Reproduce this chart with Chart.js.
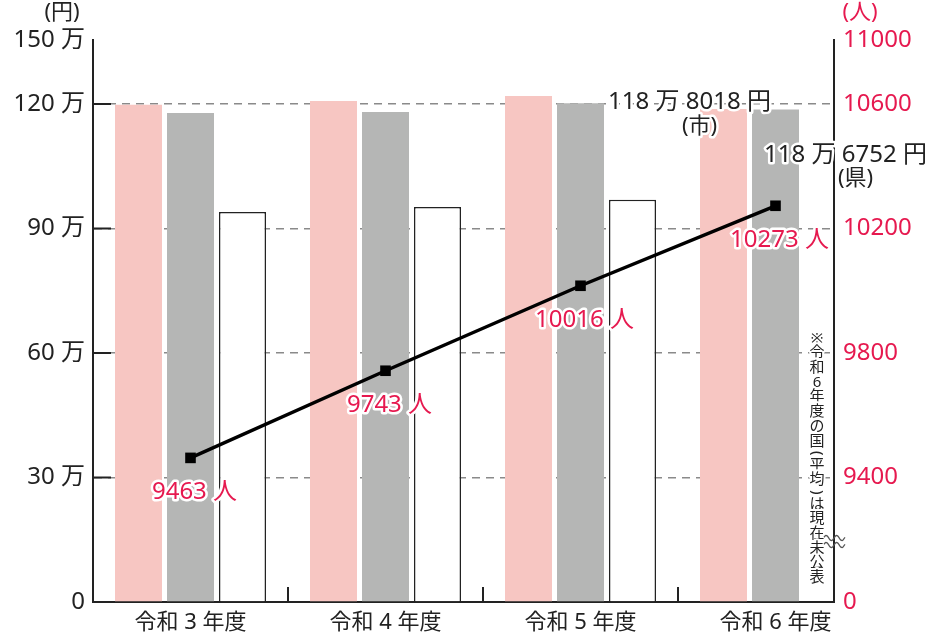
<!DOCTYPE html>
<html><head><meta charset="utf-8">
<script src="https://cdn.jsdelivr.net/npm/chart.js@4"></script>
<style>html,body{margin:0;padding:0;background:#fff;} #wrap{width:938px;height:640px;position:relative;}</style>
</head><body><div id="wrap"><canvas id="c"></canvas></div>
<script>
// ---- data ----
const categories = ['令和 3 年度', '令和 4 年度', '令和 5 年度', '令和 6 年度'];
const cityValues = [119.8, 120.7, 121.9, 118.8018];   // 万円（市）
const prefValues = [117.8, 118.1, 120.2, 118.6752];   // 万円（県）
const nationValues = [94.0, 95.2, 96.9, null];        // 万円（国・平均）
const peopleValues = [9463, 9743, 10016, 10273];      // 人
const yenTicks = [0, 30, 60, 90, 120];
const yenTopLabel = '150 万';
const peopleTicks = [9400, 9800, 10200, 10600];
const peopleBottomLabel = '0';
const peopleTopLabel = '11000';
const cityNote = ['118 万 8018 円', '(市)'];
const prefNote = ['118 万 6752 円', '(県)'];
const sideNote = '※令和6年度の国(平均)は現在未公表';

// ---- scale geometry ----
const Y_MAX = 135.42;
const P_MIN = 9000;
const P_MAX = P_MIN + Y_MAX * 400 / 30;

const PINK = '#e6194f';
const FONT = "'Noto Sans', 'Noto Sans CJK JP', sans-serif";

const pts = (arr) => arr.map((v, i) => ({x: i, y: v}));

function outlinedText(ctx, txt, x, y, color, size, align) {
  ctx.save();
  ctx.font = size + 'px ' + FONT;
  ctx.textAlign = align || 'center';
  ctx.textBaseline = 'middle';
  ctx.lineJoin = 'round';
  ctx.lineWidth = 5;
  ctx.strokeStyle = '#fff';
  ctx.strokeText(txt, x, y);
  ctx.fillStyle = color;
  ctx.fillText(txt, x, y);
  ctx.restore();
}

const decor = {
  id: 'decor',
  afterDraw(chart) {
    const ctx = chart.ctx;
    const xs = chart.scales.x, ys = chart.scales.y;
    const ca = chart.chartArea;
    ctx.save();
    ctx.strokeStyle = '#222';
    ctx.lineWidth = 2;
    // inner ticks on left axis
    yenTicks.forEach(v => {
      if (v === 0) return;
      const y = ys.getPixelForValue(v);
      ctx.beginPath(); ctx.moveTo(ca.left, y); ctx.lineTo(ca.left + 18, y); ctx.stroke();
    });
    // category separators
    for (let i = 0; i < categories.length - 1; i++) {
      const x = xs.getPixelForValue(i + 0.5);
      ctx.beginPath(); ctx.moveTo(x, ca.bottom); ctx.lineTo(x, ca.bottom - 15); ctx.stroke();
    }
    ctx.restore();

    // point labels
    const meta = chart.getDatasetMeta(0);
    meta.data.forEach((p, i) => {
      outlinedText(ctx, peopleValues[i] + ' 人', p.x + 4, p.y + 34, PINK, 24);
    });

    // unit labels
    outlinedText(ctx, '(円)', 62, 13, '#222', 22);
    outlinedText(ctx, '(人)', 860, 13, PINK, 22);

    // year-6 annotations
    const x6 = xs.getPixelForValue(3);
    const yc = ys.getPixelForValue(cityValues[3]);
    const yp = ys.getPixelForValue(prefValues[3]);
    outlinedText(ctx, cityNote[0], x6 - 86, yc - 7, '#222', 24);
    outlinedText(ctx, cityNote[1], x6 - 76, yc + 18, '#222', 22);
    outlinedText(ctx, prefNote[0], x6 + 70, yp + 46, '#222', 24);
    outlinedText(ctx, prefNote[1], x6 + 80, yp + 69, '#222', 22);

    // vertical note
    ctx.save();
    ctx.font = '15px ' + FONT;
    ctx.textAlign = 'center';
    ctx.textBaseline = 'middle';
    ctx.lineJoin = 'round';
    const nx = ca.right - 17;
    let ny = 331;
    for (const ch of sideNote) {
      const paren = (ch === '(' || ch === ')');
      const adv = paren ? 9.5 : 14.7;
      const cy = ny + adv / 2;
      ctx.save();
      ctx.translate(nx, cy);
      if (paren) ctx.rotate(Math.PI / 2);
      ctx.lineWidth = 4; ctx.strokeStyle = '#fff';
      ctx.strokeText(ch, 0, 0);
      ctx.fillStyle = '#222';
      ctx.fillText(ch, 0, 0);
      ctx.restore();
      ny += adv;
    }
    ctx.restore();

    // axis break wave
    ctx.save();
    ctx.strokeStyle = '#555';
    ctx.lineWidth = 1.3;
    const wx = ca.right, wy = 538;
    [0, 7].forEach(off => {
      ctx.beginPath();
      for (let t = -10; t <= 11; t += 0.5) {
        const yy = wy + off + Math.sin(t / 10.5 * Math.PI * 2) * -2.5;
        if (t === -10) ctx.moveTo(wx + t, yy); else ctx.lineTo(wx + t, yy);
      }
      ctx.stroke();
    });
    ctx.restore();
  }
};

new Chart(document.getElementById('c'), {
  type: 'bar',
  data: {
    datasets: [
      {
        type: 'line', label: '人数', data: pts(peopleValues), yAxisID: 'y1', order: 0,
        borderColor: '#000', borderWidth: 3.5, pointStyle: 'rect', pointRadius: 7.5,
        pointBackgroundColor: '#000', pointBorderColor: '#000', pointBorderWidth: 0, tension: 0
      },
      { label: '市', data: pts(cityValues), yAxisID: 'y', order: 1, backgroundColor: '#f7c6c2', borderWidth: 0 },
      { label: '県', data: pts(prefValues), yAxisID: 'y', order: 1, backgroundColor: '#b5b6b5', borderWidth: 0 },
      { label: '国', data: pts(nationValues), yAxisID: 'y', order: 1, backgroundColor: '#ffffff', borderColor: '#222', borderWidth: 1.5 }
    ]
  },
  options: {
    responsive: true,
    maintainAspectRatio: false,
    animation: false,
    devicePixelRatio: 1,
    categoryPercentage: 0.8,
    barPercentage: 0.904,
    layout: { padding: { top: 40, left: 0, right: 0, bottom: 0 } },
    plugins: { legend: { display: false }, tooltip: { enabled: false } },
    scales: {
      x: {
        type: 'linear', min: -0.5, max: 3.3, offset: false,
        grid: { display: false, drawTicks: false, offset: false },
        border: { display: true, color: '#222', width: 2 },
        afterBuildTicks: (s) => { s.ticks = categories.map((_, i) => ({ value: i })); },
        afterFit: (s) => { s.height = 38; },
        ticks: {
          autoSkip: false, maxRotation: 0, padding: 8, color: '#222',
          font: { family: FONT, size: 22 },
          callback: (v) => categories[v]
        }
      },
      y: {
        position: 'left', min: 0, max: Y_MAX,
        afterBuildTicks: (s) => { s.ticks = yenTicks.concat([Y_MAX]).map(v => ({ value: v })); },
        afterFit: (s) => { s.width = 93; },
        grid: {
          drawTicks: false, lineWidth: 1.5,
          color: (c) => (c.tick && c.tick.value > 0 && c.tick.value < Y_MAX) ? '#8a8a8a' : 'rgba(0,0,0,0)'
        },
        border: { display: true, color: '#222', width: 2, dash: [8, 6] },
        ticks: {
          padding: 8, color: '#222', font: { family: FONT, size: 24 },
          callback: (v) => v === 0 ? '0' : (v === Y_MAX ? yenTopLabel : v + ' 万')
        }
      },
      y1: {
        position: 'right', min: P_MIN, max: P_MAX,
        afterBuildTicks: (s) => { s.ticks = [P_MIN].concat(peopleTicks, [P_MAX]).map(v => ({ value: v })); },
        afterFit: (s) => { s.width = 104; },
        grid: { display: false, drawTicks: false },
        border: { display: true, color: '#222', width: 2 },
        ticks: {
          padding: 9, color: PINK, font: { family: FONT, size: 24 },
          callback: (v) => v === P_MIN ? peopleBottomLabel : (v === P_MAX ? peopleTopLabel : String(v))
        }
      }
    }
  },
  plugins: [decor]
});
</script>
</body></html>
